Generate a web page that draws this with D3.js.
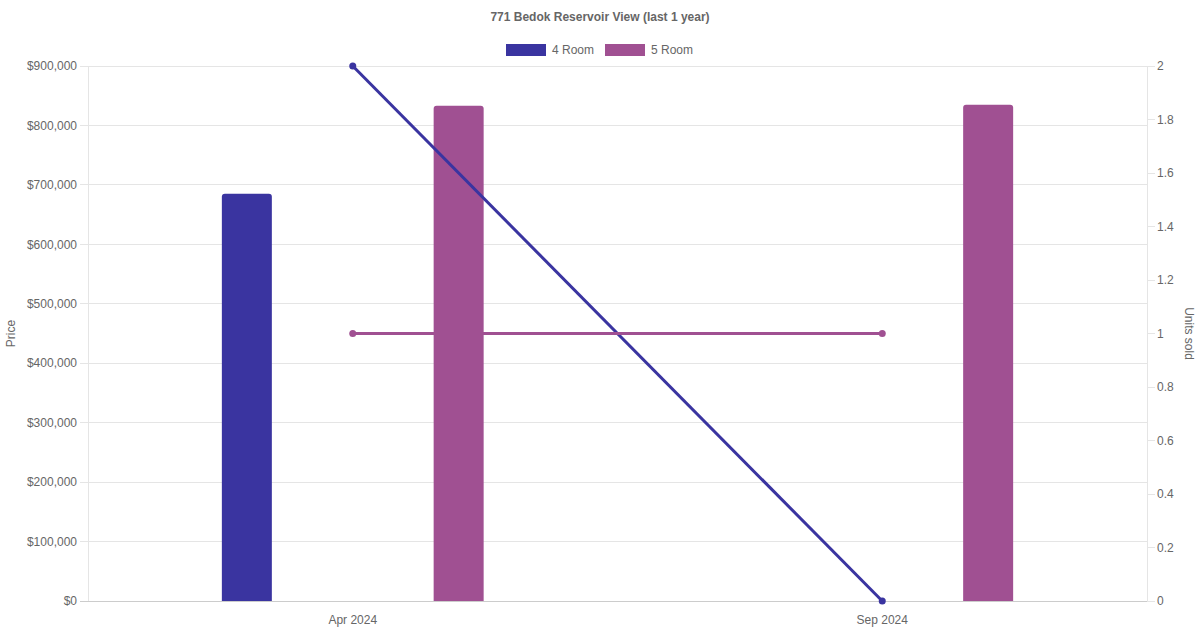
<!DOCTYPE html>
<html><head><meta charset="utf-8">
<script src="https://cdn.jsdelivr.net/npm/d3@7"></script>
<style>body{margin:0;background:#fff;font-family:"Liberation Sans",Arial,sans-serif;}</style>
</head><body><svg id="c" width="1200" height="630"></svg>
<script>
const title = "771 Bedok Reservoir View (last 1 year)";
const categories = ["Apr 2024", "Sep 2024"];
const seriesNames = ["4 Room", "5 Room"];
const colors = ["#3a34a0", "#a05092"];
const price4 = [685000, null];
const price5 = [833000, 835000];
const units4 = [2, 0];
const units5 = [1, 1];
const priceTicks = [0,100000,200000,300000,400000,500000,600000,700000,800000,900000];
const unitTicks = [0,0.2,0.4,0.6,0.8,1,1.2,1.4,1.6,1.8,2];

const svg = d3.select("#c");
const L = 88, R = 1147, T = 66, B = 601;
const x = d3.scaleBand().domain(categories).range([L, R]);
// bars occupy the central 80% of each category band
const xs = d3.scaleBand().domain(seriesNames).range([x.bandwidth() * 0.1, x.bandwidth() * 0.9]);
const yL = d3.scaleLinear().domain([0, 900000]).range([B, T]);
const yR = d3.scaleLinear().domain([0, 2]).range([B, T]);
const txt = "#666";

// grid
svg.append("g").selectAll("line").data(priceTicks).join("line")
  .attr("x1", L - 8).attr("x2", R).attr("y1", d => yL(d)).attr("y2", d => yL(d))
  .attr("stroke", d => d === 0 ? "#cccccc" : "#e5e5e5").attr("stroke-width", 1)
  .attr("shape-rendering", "crispEdges");
svg.append("g").selectAll("line").data(unitTicks).join("line")
  .attr("x1", R).attr("x2", R + 8).attr("y1", d => yR(d)).attr("y2", d => yR(d))
  .attr("stroke", "#e5e5e5").attr("shape-rendering", "crispEdges");
svg.append("line").attr("x1", L).attr("x2", L).attr("y1", T).attr("y2", B).attr("stroke", "#e5e5e5").attr("shape-rendering", "crispEdges");
svg.append("line").attr("x1", R).attr("x2", R).attr("y1", T).attr("y2", B).attr("stroke", "#e5e5e5").attr("shape-rendering", "crispEdges");
svg.append("line").attr("x1", L).attr("x2", R).attr("y1", B).attr("y2", B).attr("stroke", "#cccccc").attr("shape-rendering", "crispEdges");

// tick labels
const fmt = d => "$" + d3.format(",")(d);
svg.append("g").selectAll("text").data(priceTicks).join("text")
  .attr("x", L - 11).attr("y", d => yL(d)).attr("dy", "0.35em")
  .attr("text-anchor", "end").attr("font-size", 12).attr("fill", txt).text(fmt);
svg.append("g").selectAll("text").data(unitTicks).join("text")
  .attr("x", R + 10).attr("y", d => yR(d)).attr("dy", "0.35em")
  .attr("text-anchor", "start").attr("font-size", 12).attr("fill", txt).text(d => d3.format("~g")(d));
svg.append("g").selectAll("text").data(categories).join("text")
  .attr("x", d => x(d) + x.bandwidth() / 2).attr("y", 624)
  .attr("text-anchor", "middle").attr("font-size", 12).attr("fill", txt).text(d => d);

// axis titles
svg.append("text").attr("transform", "translate(15," + ((T + B) / 2) + ") rotate(-90)")
  .attr("text-anchor", "middle").attr("font-size", 12).attr("fill", txt).text("Price");
svg.append("text").attr("transform", "translate(1185," + ((T + B) / 2) + ") rotate(90)")
  .attr("text-anchor", "middle").attr("font-size", 12).attr("fill", txt).text("Units sold");

// bars
const barW = 50, rad = 3;
function barPath(cx, yTop) {
  const x0 = cx - barW / 2, x1 = cx + barW / 2;
  return `M${x0},${B}V${yTop + rad}Q${x0},${yTop} ${x0 + rad},${yTop}H${x1 - rad}Q${x1},${yTop} ${x1},${yTop + rad}V${B}Z`;
}
[price4, price5].forEach((vals, si) => {
  svg.append("g").selectAll("path")
    .data(categories.map((c, i) => ({c, v: vals[i]})).filter(d => d.v != null))
    .join("path")
    .attr("d", d => barPath(x(d.c) + xs(seriesNames[si]) + xs.bandwidth() / 2, yL(d.v)))
    .attr("fill", colors[si]);
});

// lines
const line = d3.line().x(d => x(d.c) + x.bandwidth() / 2).y(d => yR(d.v));
[units4, units5].forEach((vals, si) => {
  const data = categories.map((c, i) => ({c, v: vals[i]}));
  svg.append("path").datum(data).attr("d", line).attr("fill", "none")
    .attr("stroke", colors[si]).attr("stroke-width", 3);
  svg.append("g").selectAll("circle").data(data).join("circle")
    .attr("cx", d => x(d.c) + x.bandwidth() / 2).attr("cy", d => yR(d.v)).attr("r", 3.5)
    .attr("fill", colors[si]);
});

// title
svg.append("text").attr("x", 600).attr("y", 21).attr("text-anchor", "middle")
  .attr("font-size", 12).attr("font-weight", "bold").attr("fill", txt).text(title);

// legend
const legendX = [506, 605];
seriesNames.forEach((n, i) => {
  svg.append("rect").attr("x", legendX[i]).attr("y", 44).attr("width", 40).attr("height", 12).attr("fill", colors[i]);
  svg.append("text").attr("x", legendX[i] + 46).attr("y", 50).attr("dy", "0.35em").attr("font-size", 12).attr("fill", txt).text(n);
});
</script></body></html>
